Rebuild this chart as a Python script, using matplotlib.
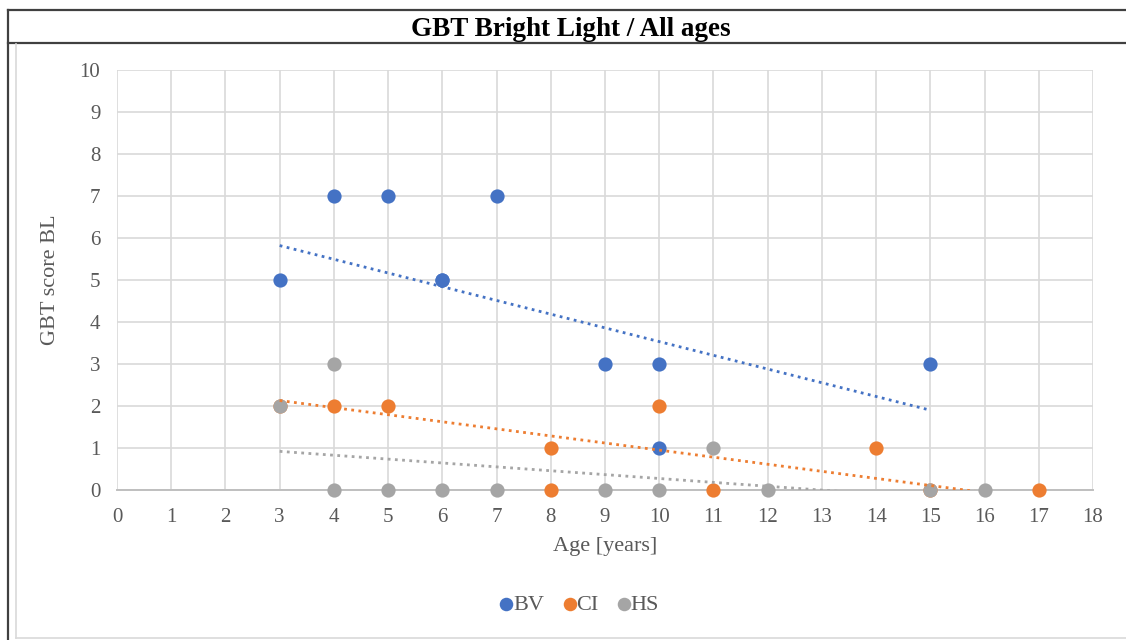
import matplotlib
matplotlib.use("Agg")
import matplotlib.pyplot as plt
from matplotlib.lines import Line2D

plt.rcParams['font.family'] = ['Liberation Serif', 'DejaVu Serif']

# GBT score (bright light) per age, one list per group
bv_age = [3, 4, 5, 6, 6, 7, 9, 10, 10, 15]
bv_score = [5, 7, 7, 5, 5, 7, 3, 3, 1, 3]
ci_age = [3, 4, 5, 8, 8, 10, 11, 14, 15, 17]
ci_score = [2, 2, 2, 1, 0, 2, 0, 1, 0, 0]
hs_age = [3, 4, 4, 5, 6, 7, 9, 10, 11, 12, 15, 16]
hs_score = [2, 3, 0, 0, 0, 0, 0, 0, 1, 0, 0, 0]

# linear trend lines: (x start, x end), (y start, y end)
bv_trend_x, bv_trend_y = [3, 15], [5.82, 1.90]
ci_trend_x, ci_trend_y = [3, 17], [2.13, -0.23]
hs_trend_x, hs_trend_y = [3, 16], [0.92, -0.28]

names = ["BV", "CI", "HS"]
colors = ["#4472C4", "#ED7D31", "#A5A5A5"]
text_grey = "#595959"

fig = plt.figure(figsize=(11.26, 6.4), dpi=100)
W, H = 1126, 640

# frame around the chart with the title cell on top
def fline(x0, y0, x1, y1, **kw):
    fig.add_artist(Line2D([x0 / W, x1 / W], [1 - y0 / H, 1 - y1 / H],
                          transform=fig.transFigure, **kw))

fline(8, 10, 8, 640, color="#404040", lw=1.6)
fline(8, 10, 1126, 10, color="#404040", lw=1.6)
fline(8, 43, 1126, 43, color="#404040", lw=1.6)
fline(16, 44, 16, 638, color="#d9d9d9", lw=1.2)
fline(16, 638, 1126, 638, color="#d9d9d9", lw=1.2)

fig.text(571 / W, 1 - 29 / H, "GBT Bright Light / All ages", ha="center",
         va="center", fontsize=19.5, fontweight="bold", color="black")

ax = fig.add_axes([117 / W, 150 / H, (1093 - 117) / W, (490 - 70) / H])

groups = [(bv_age, bv_score), (ci_age, ci_score), (hs_age, hs_score)]
for (x, y), c, n in zip(groups, colors, names):
    ax.scatter(x, y, s=105, color=c, label=n, zorder=3, linewidths=0,
               clip_on=False)

trends = [(bv_trend_x, bv_trend_y), (ci_trend_x, ci_trend_y), (hs_trend_x, hs_trend_y)]
for (tx, ty), c in zip(trends, colors):
    ax.plot(tx, ty, color=c, lw=2.0, linestyle=(0, (1, 1.6)), zorder=4)

ax.set_xlim(0, 18)
ax.set_ylim(0, 10)
ax.set_xticks(range(0, 19))
ax.set_yticks(range(0, 11))
ax.grid(True, color="#d9d9d9", lw=1.2)
ax.set_axisbelow(True)
for side in ["top", "right", "left"]:
    ax.spines[side].set_visible(False)
ax.spines["bottom"].set_color("#bfbfbf")
ax.spines["bottom"].set_linewidth(1.4)
ax.tick_params(length=0, labelsize=15, labelcolor=text_grey)
ax.tick_params(axis="x", pad=13)
ax.tick_params(axis="y", pad=12)

ax.set_xlabel("Age [years]", fontsize=16, color=text_grey, labelpad=7)
ax.set_ylabel("GBT score BL", fontsize=16, color=text_grey, labelpad=14)

leg = fig.legend(loc="center", bbox_to_anchor=(576 / W, 1 - 605 / H), ncol=3,
                 frameon=False, fontsize=16, handletextpad=-0.3,
                 handlelength=1.2, columnspacing=0.55, markerscale=0.95,
                 borderpad=0)
for t in leg.get_texts():
    t.set_color(text_grey)

fig.savefig("out.png", dpi=100)
